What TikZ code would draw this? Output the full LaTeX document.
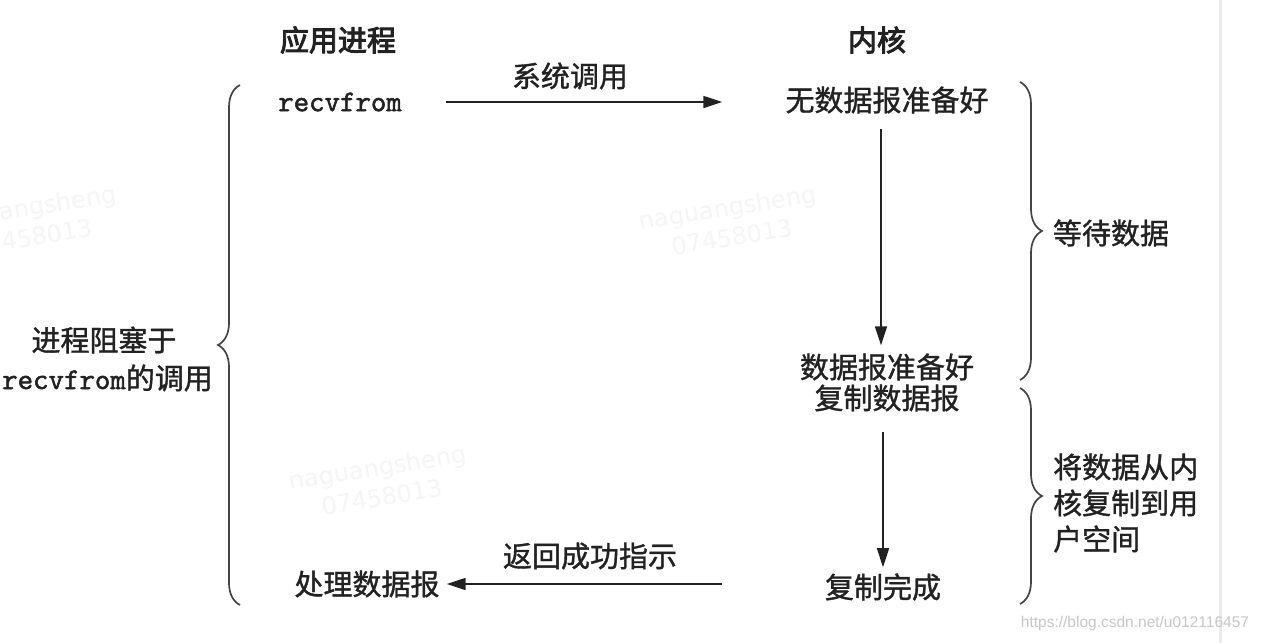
\documentclass[tikz,border=0pt]{standalone}
\usepackage{fontspec}
\newfontfamily\cjk{Noto Sans CJK SC}[FakeBold=1.2]
\newfontfamily\cjkbold{Noto Sans CJK SC}[FakeBold=3.2]
\newfontfamily\monofont{Latin Modern Mono}[FakeBold=1.8]
\newfontfamily\wmfont{DejaVu Sans}
\newfontfamily\urlfont{Liberation Sans}
\usetikzlibrary{arrows.meta,decorations.pathreplacing}
\definecolor{ink}{HTML}{222222}
\definecolor{braceink}{HTML}{444444}
\tikzset{
  txt/.style={inner sep=0pt, text=ink, font=\cjk\fontsize{29}{34}\selectfont, fill=white},
  head/.style={txt, font=\cjkbold\fontsize{29}{34}\selectfont},
  mono/.style={inner sep=0pt, text=ink, font=\monofont\fontsize{30}{34}\selectfont},
  arr/.style={draw=ink, line width=1.6pt, -{Triangle[length=19pt,width=12pt]}},
  curly/.style={draw=braceink, line width=1.7pt, decorate, decoration={brace, amplitude=22pt}},
  wm/.style={inner sep=0pt, text=black!4, font=\wmfont\fontsize{24}{30}\selectfont, rotate=9, align=center},
}
\begin{document}
\begin{tikzpicture}[x=1pt,y=-1pt]
\useasboundingbox (0,0) rectangle (1262,643);
\fill[white] (0,0) rectangle (1262,643);
% watermarks
\node[wm] (wm1) at (30,222) {naguangsheng\\07458013};
\node[wm] (wm2) at (730,222) {naguangsheng\\07458013};
\node[wm] (wm3) at (380,482) {naguangsheng\\07458013};
% right edge line
\draw[black!8, line width=3pt] (1220,0) -- (1220,643);
% headers
\node[head] (app) at (338,40) {应用进程};
\node[head] (kern) at (877,40) {内核};
% texts
\node[mono] (recv) at (340,102) {recvfrom};
\node[txt] (nodata) at (887,100) {无数据报准备好};
\node[txt] (ready) at (887,367) {数据报准备好};
\node[txt] (copy) at (887,398) {复制数据报};
\node[txt] (done) at (883,587) {复制完成};
\node[txt] (proc) at (367,584) {处理数据报};
\node[txt] (sys) at (570,76) {系统调用};
\node[txt] (ret) at (590,556) {返回成功指示};
\node[txt] (block1) at (104,340) {进程阻塞于};
\node[txt, anchor=east] (block2) at (213,378) {{\monofont\fontsize{30}{34}\selectfont recvfrom}的调用};
\node[txt] (wait) at (1111,233) {等待数据};
\node[txt, anchor=west] (cp1) at (1053,467) {将数据从内};
\node[txt, anchor=west] (cp2) at (1053,503) {核复制到用};
\node[txt, anchor=west] (cp3) at (1053,539) {户空间};
\node[inner sep=0pt, text=black!22, font=\urlfont\fontsize{15.5}{18}\selectfont] (url) at (1135,623) {https://blog.csdn.net/u012116457};
% arrows
\draw[arr, shorten <=44pt, shorten >=63pt] (recv.east) -- (recv.east -| nodata.west);
\draw[arr, shorten <=15pt, shorten >=8pt] ([xshift=-6pt]nodata.south) -- ([xshift=-6pt]ready.north);
\draw[arr, shorten <=20pt, shorten >=6pt] (copy.south -| done.north) -- (done.north);
\draw[arr, shorten <=103pt, shorten >=7pt] (done.west |- proc.east) -- (proc.east);
% braces
\draw[curly] (240,605) -- (240,85);
\draw[curly] (1020,82) -- (1020,380);
\draw[curly] (1020,388) -- (1020,604);
\end{tikzpicture}
\end{document}
